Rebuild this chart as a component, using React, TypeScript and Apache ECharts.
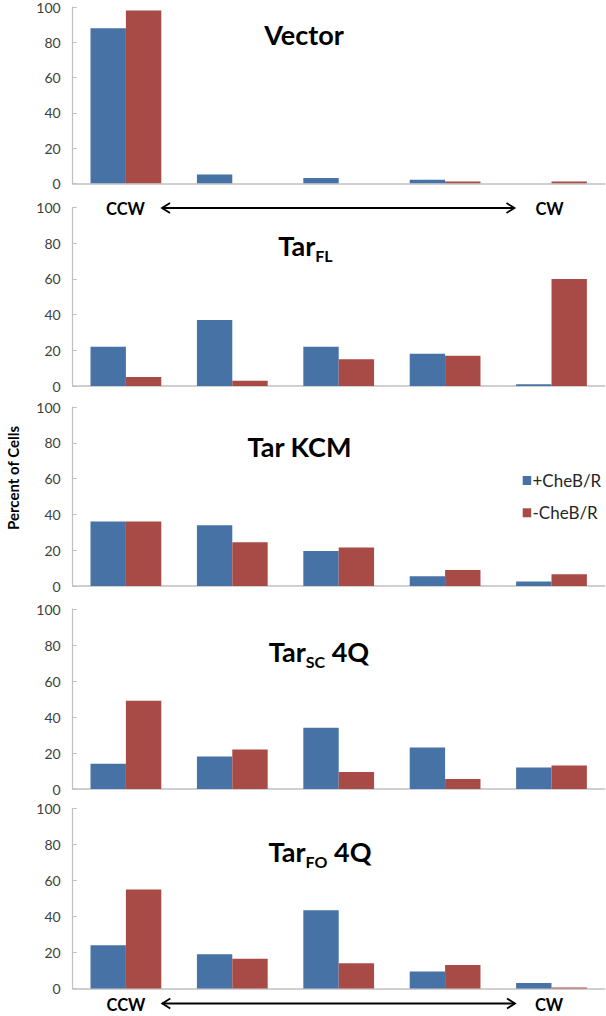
import React, { useEffect, useRef } from "react";
import * as echarts from "echarts";

// ---- data ----
const categories = ["bin1", "bin2", "bin3", "bin4", "bin5"];
const seriesNames = ["+CheB/R", "-CheB/R"];
const yTicks = [0, 20, 40, 60, 80, 100];

const vectorPlus = [88, 5, 3, 2, 0];
const vectorMinus = [98, 0, 0, 1, 1];
const tarFLPlus = [22, 37, 22, 18, 1];
const tarFLMinus = [5, 3, 15, 17, 60];
const tarKCMPlus = [36, 34, 19.5, 5.5, 2.5];
const tarKCMMinus = [36, 24.5, 21.5, 9, 6.5];
const tarSCPlus = [14, 18, 34, 23, 12];
const tarSCMinus = [49, 22, 9.5, 5.5, 13];
const tarFOPlus = [24, 19, 43.5, 9.5, 3];
const tarFOMinus = [55, 16.5, 14, 13, 0.5];

const panelTitles = ["{m|Vector}", "{m|Tar}{s|FL}", "{m|Tar KCM}", "{m|Tar}{s|SC}{m| 4Q}", "{m|Tar}{s|FO}{m| 4Q}"];
const yAxisName = "Percent of Cells";
const directionLabels = ["CCW", "CW"];

// ---- layout ----
const layout = [
  { top: 3.3, height: 180, titleX: 304, titleY: 34 },
  { top: 207.5, height: 178.5, titleX: 305.5, titleY: 245 },
  { top: 407, height: 179, titleX: 299.5, titleY: 446 },
  { top: 609, height: 180, titleX: 319, titleY: 651 },
  { top: 808.5, height: 180, titleX: 320, titleY: 851.5 },
];

const BLUE = "#4672A6";
const RED = "#A84A45";
const FONT = "Lato";

export default function App() {
  const ref = useRef<HTMLDivElement>(null);

  useEffect(() => {
    if (!ref.current) return;
    const chart = echarts.init(ref.current, null, { renderer: "svg" });
    const plusData = [vectorPlus, tarFLPlus, tarKCMPlus, tarSCPlus, tarFOPlus];
    const minusData = [vectorMinus, tarFLMinus, tarKCMMinus, tarSCMinus, tarFOMinus];

    const grids = layout.map((l) => ({ left: 72.7, width: 532, top: l.top, height: l.height }));
    const xAxes = layout.map((_, i) => ({
      gridIndex: i,
      type: "category",
      data: categories,
      axisLine: { show: true, lineStyle: { color: "#c0c0c0", width: 1.5 } },
      axisTick: { show: false },
      axisLabel: { show: false },
      splitLine: { show: false },
    }));
    const yAxes = layout.map((_, i) => ({
      gridIndex: i,
      type: "value",
      min: yTicks[0],
      max: yTicks[yTicks.length - 1],
      interval: yTicks[1] - yTicks[0],
      axisLine: { show: true, lineStyle: { color: "#c0c0c0", width: 1.2 } },
      axisTick: { show: true, inside: true, length: 4, lineStyle: { color: "#c0c0c0" } },
      axisLabel: { fontSize: 14, color: "#404040", fontFamily: FONT, margin: 12 },
      splitLine: { show: false },
    }));
    const series: any[] = [];
    layout.forEach((_, i) => {
      series.push({
        type: "bar",
        name: seriesNames[0],
        xAxisIndex: i,
        yAxisIndex: i,
        data: plusData[i],
        itemStyle: { color: BLUE },
        barGap: "0%",
        barCategoryGap: "33.5%",
      });
      series.push({
        type: "bar",
        name: seriesNames[1],
        xAxisIndex: i,
        yAxisIndex: i,
        data: minusData[i],
        itemStyle: { color: RED },
        barGap: "0%",
        barCategoryGap: "33.5%",
      });
    });

    const titleRich = {
      m: { fontSize: 27, fontWeight: "bold", fontFamily: FONT, color: "#000", lineHeight: 36 },
      s: { fontSize: 16, fontWeight: "bold", fontFamily: FONT, color: "#000", lineHeight: 18, verticalAlign: "bottom" },
    };
    const titles = layout.map((l, i) => ({
      type: "text",
      x: l.titleX,
      y: l.titleY - 18,
      style: { text: panelTitles[i], rich: titleRich, align: "center", verticalAlign: "top" },
    }));

    const arrowRow = (y: number, ccwX: number, cwX: number, x1: number, x2: number) => [
      {
        type: "text",
        x: ccwX,
        y: y,
        style: {
          text: directionLabels[0],
          font: `bold 16.5px ${FONT}`,
          fill: "#000",
          align: "center",
          verticalAlign: "middle",
        },
      },
      {
        type: "text",
        x: cwX,
        y: y,
        style: {
          text: directionLabels[1],
          font: `bold 16.5px ${FONT}`,
          fill: "#000",
          align: "center",
          verticalAlign: "middle",
        },
      },
      { type: "line", shape: { x1: x1, y1: y - 1, x2: x2, y2: y - 1 }, style: { stroke: "#000", lineWidth: 1.8 } },
      {
        type: "polyline",
        shape: { points: [[x1 + 8, y - 6], [x1, y - 1], [x1 + 8, y + 4]] },
        style: { stroke: "#000", lineWidth: 1.8, fill: null },
      },
      {
        type: "polyline",
        shape: { points: [[x2 - 8, y - 6], [x2, y - 1], [x2 - 8, y + 4]] },
        style: { stroke: "#000", lineWidth: 1.8, fill: null },
      },
    ];

    const legend = [
      { type: "rect", shape: { x: 522.7, y: 476, width: 8.5, height: 9 }, style: { fill: BLUE } },
      { type: "rect", shape: { x: 522.7, y: 508.3, width: 8.5, height: 9 }, style: { fill: RED } },
      {
        type: "text",
        x: 532.5,
        y: 480.5,
        style: { text: seriesNames[0], font: `17px ${FONT}`, fill: "#262626", align: "left", verticalAlign: "middle" },
      },
      {
        type: "text",
        x: 532.5,
        y: 512.8,
        style: { text: seriesNames[1], font: `17px ${FONT}`, fill: "#262626", align: "left", verticalAlign: "middle" },
      },
    ];

    const yName = {
      type: "text",
      x: 12.5,
      y: 478,
      rotation: Math.PI / 2,
      style: { text: yAxisName, font: `bold 15px ${FONT}`, fill: "#000", align: "center", verticalAlign: "middle" },
    };

    chart.setOption({
      animation: false,
      backgroundColor: "#fff",
      grid: grids,
      xAxis: xAxes,
      yAxis: yAxes,
      series,
      graphic: [
        ...titles,
        ...arrowRow(209, 125.5, 549.5, 162, 514.5),
        ...arrowRow(1004.5, 126, 549, 162.3, 515),
        ...legend,
        yName,
      ],
    });
    return () => chart.dispose();
  }, []);

  return (
    <div
      ref={ref}
      style={{ position: "absolute", left: 0, top: 0, width: 606, height: 1016, background: "#fff" }}
    />
  );
}
